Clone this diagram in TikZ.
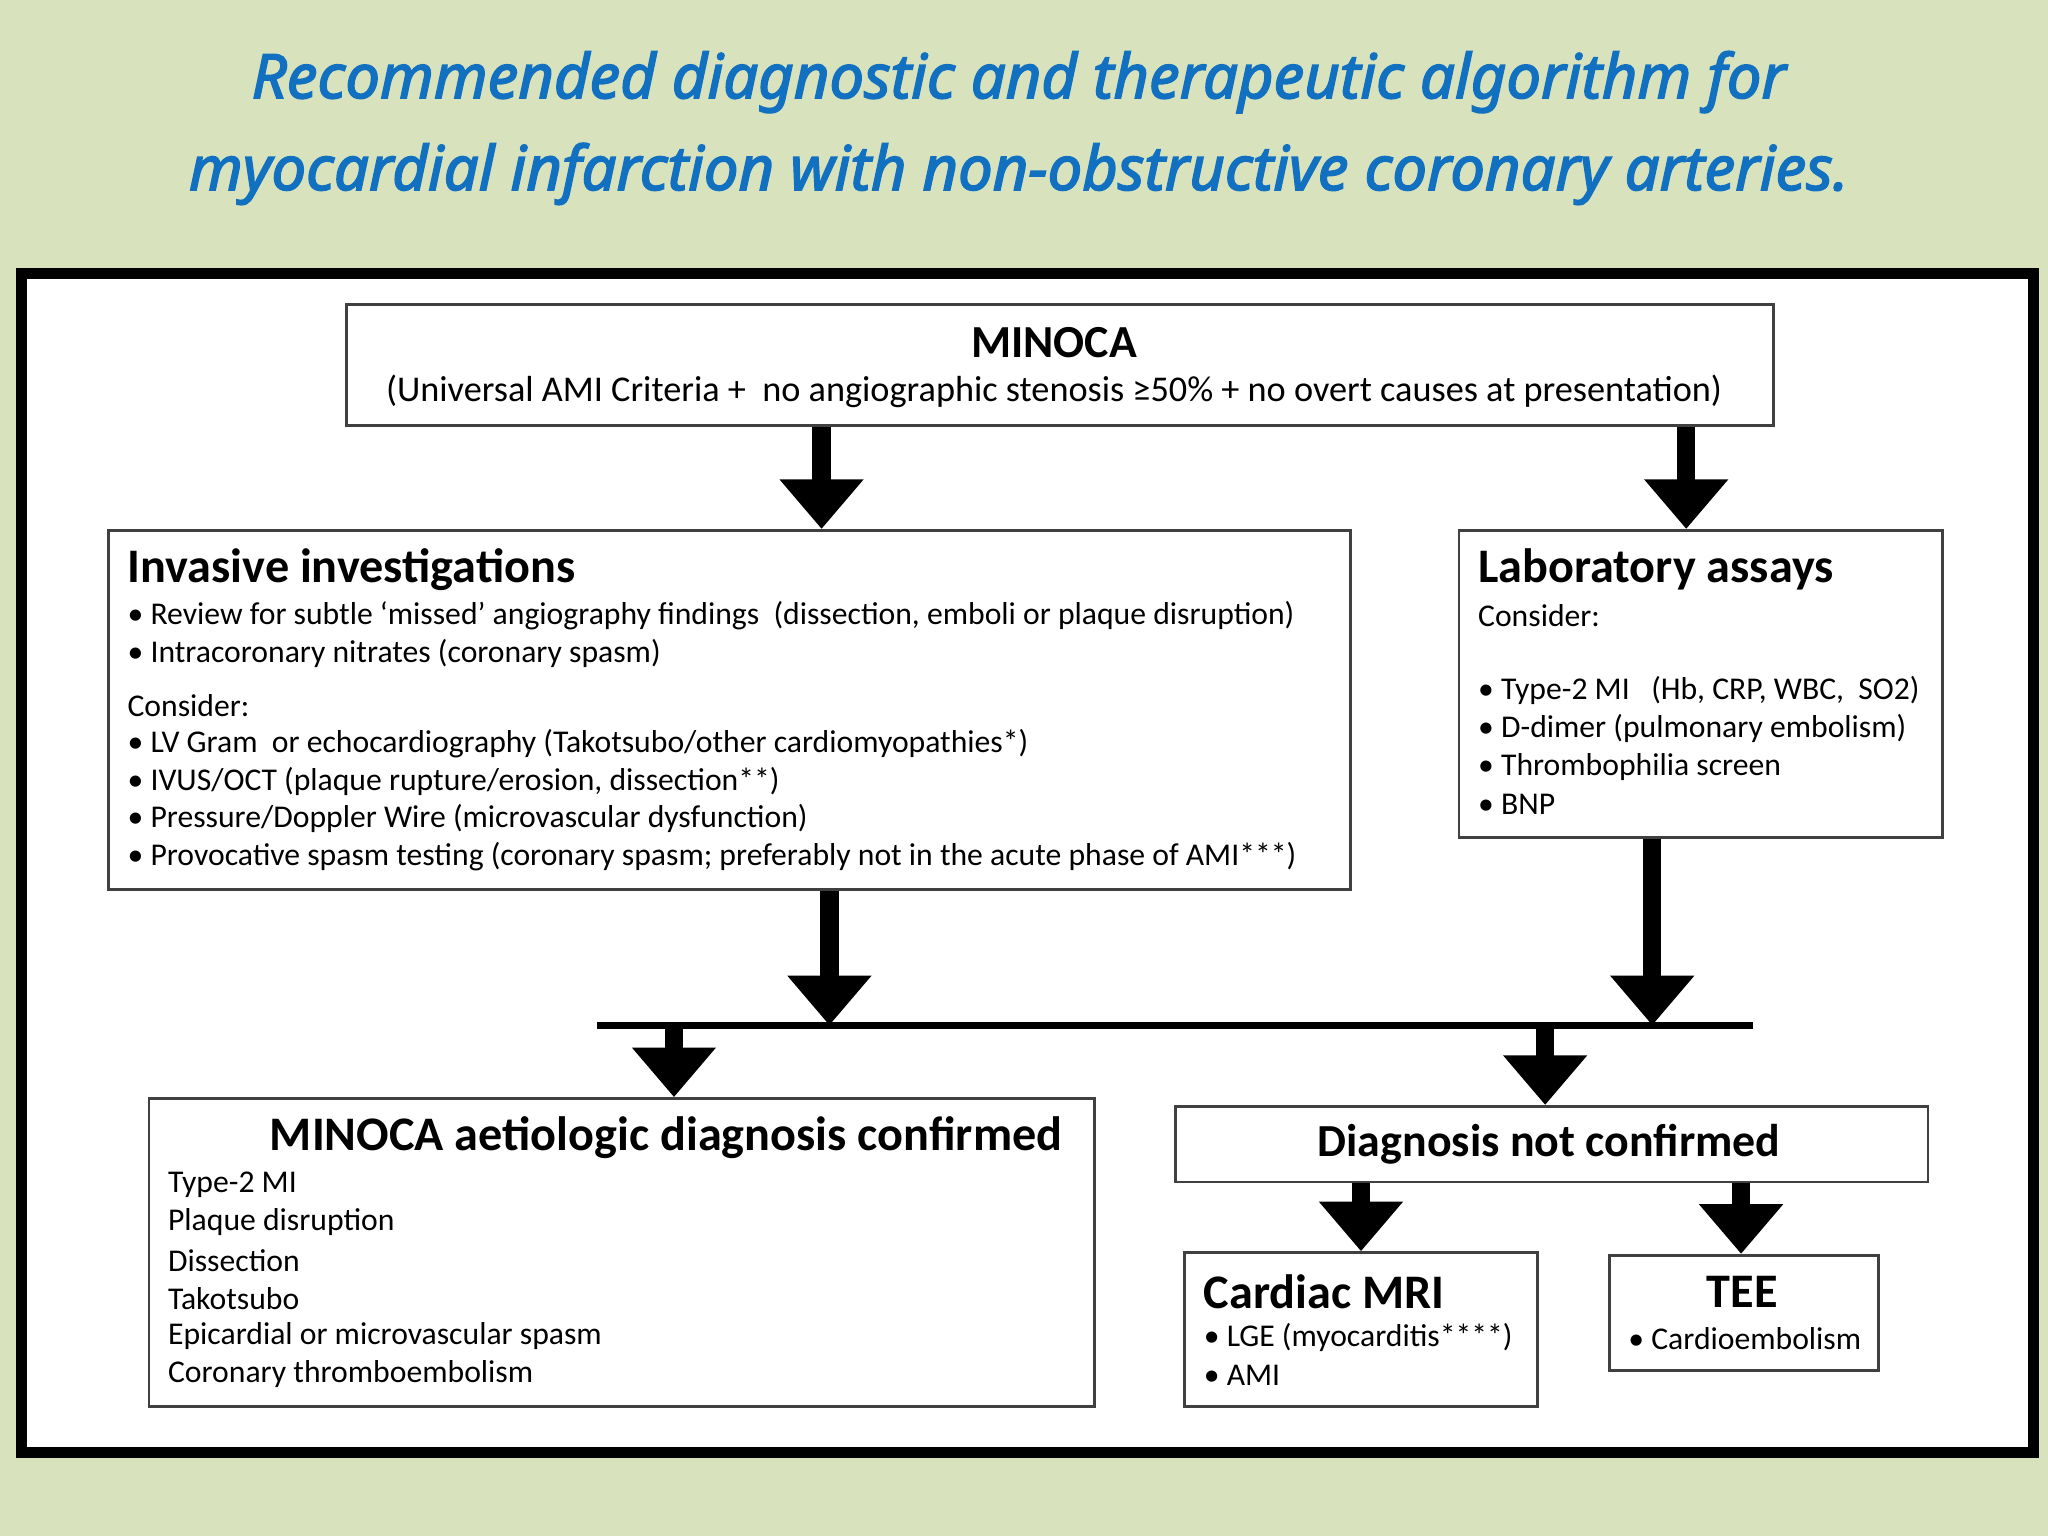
\documentclass[tikz,border=0pt]{standalone}
\usepackage{fontspec}
\setmainfont{Carlito}
\newfontfamily\ttl{Noto Sans}[ItalicFeatures={FakeBold=2.5}]
\usetikzlibrary{arrows.meta}
\definecolor{bg}{HTML}{D8E3BE}
\definecolor{tblue}{HTML}{1170C0}
\begin{document}
\begin{tikzpicture}[
  box/.style={draw=black!75,line width=0.6pt,fill=white,anchor=north west,inner sep=0pt},
  blk/.style={line width=0.14cm,-{Triangle[width=0.62cm,length=0.38cm]}},
  hd/.style={anchor=west,font=\fontsize{10.5}{12}\selectfont\bfseries,inner sep=0pt},
  tx/.style={anchor=west,font=\fontsize{6.9}{8}\selectfont,inner sep=0pt},
]
\fill[bg] (0,0) rectangle (15.68,-11.76);
\useasboundingbox (0,0) rectangle (15.68,-11.76);
\node[font=\ttl\fontsize{13.4}{19}\selectfont\itshape,text=tblue,align=center] (title) at (7.80,-0.98)
  {Recommended diagnostic and therapeutic algorithm for\\[1pt]myocardial infarction with non-obstructive coronary arteries.};
\fill[black!30] (0.16,-2.09) rectangle (15.60,-11.15);
\node[draw=black,line width=2.4pt,fill=white,anchor=north west,minimum width=15.41cm,minimum height=9.03cm,inner sep=0pt] (frame) at (0.12,-2.05) {};
% boxes
\node[box,minimum width=10.93cm,minimum height=0.93cm] (minoca) at (2.64,-2.32) {};
\node[box,minimum width=9.51cm,minimum height=2.75cm] (inv) at (0.82,-4.05) {};
\node[box,minimum width=3.70cm,minimum height=2.35cm] (lab) at (11.16,-4.05) {};
\node[box,minimum width=7.24cm,minimum height=2.36cm] (conf) at (1.13,-8.40) {};
\node[box,minimum width=5.76cm,minimum height=0.58cm] (notc) at (8.99,-8.46) {};
\node[box,minimum width=2.70cm,minimum height=1.18cm] (mri) at (9.06,-9.58) {};
\node[box,minimum width=2.06cm,minimum height=0.88cm] (tee) at (12.31,-9.60) {};
% MINOCA
\node[font=\fontsize{10}{12}\selectfont\bfseries,inner sep=0pt] (mt) at (8.07,-2.62) {MINOCA};
\node[font=\fontsize{7.9}{9}\selectfont,inner sep=0pt] (ms) at (8.07,-3.00) {(Universal AMI Criteria +\ \ no angiographic stenosis ≥50\% + no overt causes at presentation)};
% Invasive
\node[hd] (ih) at (0.97,-4.36) {Invasive investigations};
\node[tx] at (0.97,-4.71) {• Review for subtle ‘missed’ angiography findings\ \ (dissection, emboli or plaque disruption)};
\node[tx] at (0.97,-5.00) {• Intracoronary nitrates (coronary spasm)};
\node[tx] at (0.97,-5.40) {Consider:};
\node[tx] at (0.97,-5.69) {• LV Gram\ \ or echocardiography (Takotsubo/other cardiomyopathies*)};
\node[tx] at (0.97,-5.98) {• IVUS/OCT (plaque rupture/erosion, dissection**)};
\node[tx] at (0.97,-6.27) {• Pressure/Doppler Wire (microvascular dysfunction)};
\node[tx] at (0.97,-6.56) {• Provocative spasm testing (coronary spasm; preferably not in the acute phase of AMI***)};
% Lab
\node[hd] (lh) at (11.31,-4.36) {Laboratory assays};
\node[tx] at (11.31,-4.71) {Consider:};
\node[tx] at (11.31,-5.29) {• Type-2 MI\ \ \ (Hb, CRP, WBC,\ \ SO2)};
\node[tx] at (11.31,-5.58) {• D-dimer (pulmonary embolism)};
\node[tx] at (11.31,-5.87) {• Thrombophilia screen};
\node[tx] at (11.31,-6.16) {• BNP};
% confirmed
\node[font=\fontsize{10.5}{12}\selectfont\bfseries,inner sep=0pt] (ch) at (5.10,-8.71) {MINOCA aetiologic diagnosis confirmed};
\node[tx] at (1.28,-9.07) {Type-2 MI};
\node[tx] at (1.28,-9.36) {Plaque disruption};
\node[tx] at (1.28,-9.65) {Dissection};
\node[tx] at (1.28,-9.94) {Takotsubo};
\node[tx] at (1.28,-10.23) {Epicardial or microvascular spasm};
\node[tx] at (1.28,-10.52) {Coronary thromboembolism};
% not confirmed
\node[font=\fontsize{10}{12}\selectfont\bfseries,inner sep=0pt] (nh) at (11.86,-8.76) {Diagnosis not confirmed};
\node[hd] (rh) at (9.21,-9.89) {Cardiac MRI};
\node[tx] at (9.21,-10.24) {• LGE (myocarditis****)};
\node[tx] at (9.21,-10.53) {• AMI};
\node[font=\fontsize{10.5}{12}\selectfont\bfseries,inner sep=0pt] (th) at (13.34,-9.89) {TEE};
\node[tx] at (12.46,-10.25) {• Cardioembolism};
% line
\coordinate (hl) at (4.57,-7.85);
\coordinate (hr) at (13.42,-7.85);
\draw[line width=1.6pt] (hl) -- (hr);
% arrows
\draw[blk] (6.29,0 |- minoca.south) -- (6.29,0 |- inv.north);
\draw[blk] (12.91,0 |- minoca.south) -- (12.91,0 |- lab.north);
\draw[blk] (6.35,0 |- inv.south) -- (6.35,0 |- hl);
\draw[blk] (12.65,0 |- lab.south) -- (12.65,0 |- hl);
\draw[blk] (5.16,0 |- hl) -- (5.16,0 |- conf.north);
\draw[blk] (11.83,0 |- hl) -- (11.83,0 |- notc.north);
\draw[blk] (10.42,0 |- notc.south) -- (10.42,0 |- mri.north);
\draw[blk] (13.33,0 |- notc.south) -- (13.33,0 |- tee.north);
\end{tikzpicture}
\end{document}
